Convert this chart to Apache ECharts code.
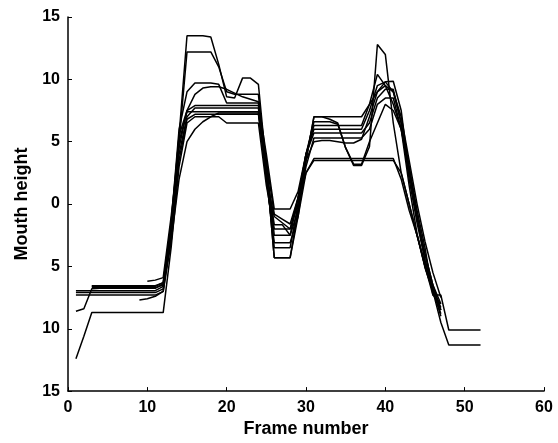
<!DOCTYPE html>
<html>
<head>
<meta charset="utf-8">
<script src="https://cdn.jsdelivr.net/npm/echarts@6/dist/echarts.min.js"></script>
<style>
html,body{margin:0;padding:0;background:#fff;}
#chart{width:558px;height:443px;}
</style>
</head>
<body>
<div id="chart"></div>
<script>
// Frame numbers (x values)
var frames = [1,2,3,4,5,6,7,8,9,10,11,12,13,14,15,16,17,18,19,20,21,22,23,24,25,26,27,28,29,30,31,32,33,34,35,36,37,38,39,40,41,42,43,44,45,46,47,48,49,50,51,52];

// Mouth height traces (one per utterance)
var seriesA = [-7.1,-7.1,-7.1,-7.1,-7.1,-7.1,-7.1,-7.1,-7.1,-7.1,-7.1,-6.8,-2.0,5.5,13.5,13.5,13.5,13.4,11.2,8.6,8.5,10.1,10.1,9.6,3.0,-4.3,-4.3,-4.3,-0.5,3.5,7.0,7.0,7.0,7.0,7.0,7.0,7.0,8.0,9.0,9.8,9.85,7.5,2.5,-1.0,-4.0,-6.5,-8.5,null,null,null,null,null];
var seriesB = [-7.3,-7.3,-7.3,-7.3,-7.3,-7.3,-7.3,-7.3,-7.3,-7.3,-7.3,-7.0,-2.5,5.0,12.2,12.2,12.2,12.2,11.0,9.0,8.8,8.8,8.8,8.8,2.5,-3.5,-3.5,-3.5,0.0,4.0,6.6,6.6,6.6,6.4,4.5,3.1,3.1,4.6,12.8,12.0,6.5,2.5,0.0,-2.5,-4.8,-7.0,-9.5,-11.3,-11.3,-11.3,-11.3,-11.3];
var seriesC = [null,null,-6.55,-6.55,-6.55,-6.55,-6.55,-6.55,-6.55,-6.55,-6.55,-6.3,-1.5,6.0,9.0,9.7,9.7,9.7,9.6,8.1,8.1,8.1,8.1,8.1,4.0,-0.4,-0.4,-0.4,1.0,4.0,6.3,6.3,6.3,6.3,6.3,6.3,6.3,8.0,10.4,9.5,8.0,6.0,3.0,-0.5,-3.5,-7.3,-7.3,-10.1,-10.1,-10.1,-10.1,-10.1];
var seriesD = [null,null,-6.7,-6.7,-6.7,-6.7,-6.7,-6.7,-6.7,-6.7,-6.7,-6.5,-3.0,4.0,7.0,7.7,7.7,7.7,7.7,7.7,7.7,7.7,7.7,7.7,2.0,-1.0,-1.5,-2.0,0.5,4.0,5.7,5.7,5.7,5.7,5.7,5.7,5.7,6.5,8.5,9.2,9.2,6.5,2.0,-1.5,-4.5,-6.8,-9.0,null,null,null,null,null];
var seriesE = [-8.6,-8.4,-6.8,-6.75,-6.75,-6.75,-6.75,-6.75,-6.75,-6.75,-6.75,-6.4,-2.0,3.5,6.8,7.2,7.2,7.2,7.2,7.2,7.2,7.2,7.2,7.2,2.5,-1.65,-1.65,-2.5,-0.5,3.0,5.3,5.3,5.3,5.3,5.3,5.3,5.3,6.0,8.0,8.5,8.5,6.0,1.5,-2.4,-5.1,-7.0,-8.8,null,null,null,null,null];
var seriesF = [-12.4,-10.6,-8.7,-8.7,-8.7,-8.7,-8.7,-8.7,-8.7,-8.7,-8.7,-8.7,-3.5,3.0,6.5,7.0,7.0,7.0,7.0,6.5,6.5,6.5,6.5,6.5,1.5,-2.0,-2.0,-2.0,0.0,2.5,3.65,3.65,3.65,3.65,3.65,3.65,3.65,3.65,3.65,3.65,3.65,2.0,-0.5,-2.5,-5.0,-7.3,-8.0,null,null,null,null,null];
var seriesG = [null,null,null,null,null,null,null,null,null,-6.2,-6.1,-5.9,-1.0,4.5,7.5,8.8,9.3,9.4,9.4,9.2,8.9,8.6,8.4,8.2,3.5,-2.5,-2.5,-2.5,0.5,3.5,5.0,5.1,5.1,5.0,4.9,4.9,5.2,7.0,9.0,9.5,9.0,6.5,3.0,-1.0,-4.0,-6.5,-8.0,null,null,null,null,null];
var seriesH = [null,null,null,null,null,null,null,null,-7.7,-7.6,-7.4,-7.0,-3.0,2.0,5.0,6.0,6.6,7.0,7.3,7.3,7.3,7.3,7.3,7.3,2.0,-3.1,-3.1,-3.1,-1.0,2.5,3.5,3.5,3.5,3.5,3.5,3.5,3.5,3.5,3.5,3.5,3.5,2.5,0.0,-2.5,-5.0,-7.0,-8.5,null,null,null,null,null];
var seriesI = [-6.95,-6.95,-6.95,-6.95,-6.95,-6.95,-6.95,-6.95,-6.95,-6.95,-6.95,-6.6,-2.0,5.0,7.4,7.4,7.4,7.4,7.4,7.4,7.4,7.4,7.4,7.4,3.0,-4.3,-4.3,-4.3,-1.0,3.5,7.0,7.0,6.8,6.5,4.5,3.2,3.2,5.0,6.5,8.0,7.5,6.0,2.5,-1.0,-4.5,-6.8,-8.3,null,null,null,null,null];
var seriesJ = [null,null,-6.6,-6.6,-6.6,-6.6,-6.6,-6.6,-6.6,-6.6,-6.6,-6.3,-1.5,5.5,7.5,7.9,7.9,7.9,7.9,7.9,7.9,7.9,7.9,7.9,3.5,-0.8,-1.2,-1.6,0.5,4.0,6.0,6.0,6.0,6.0,6.0,6.0,6.0,7.5,9.5,9.8,9.0,7.0,3.5,0.0,-3.0,-5.5,-7.5,null,null,null,null,null];

var allSeries = [seriesA,seriesB,seriesC,seriesD,seriesE,seriesF,seriesG,seriesH,seriesI,seriesJ];

// Axis ticks
var xTicks = [0,10,20,30,40,50,60];
var yTicks = [-15,-10,-5,0,5,10,15];

var chart = echarts.init(document.getElementById('chart'), null, {renderer:'canvas'});
var FONT = 'Liberation Sans';

var series = allSeries.map(function(vals){
  var data = [];
  for (var i = 0; i < frames.length; i++) {
    if (vals[i] !== null) data.push([frames[i], vals[i]]);
  }
  return {
    type:'line', data:data, showSymbol:false, symbol:'none',
    lineStyle:{color:'#000', width:1.5}, animation:false, connectNulls:false
  };
});

chart.setOption({
  backgroundColor:'#fff',
  animation:false,
  grid:{left:68, right:14, top:17, bottom:50},
  xAxis:{
    type:'value', min:xTicks[0], max:xTicks[xTicks.length-1], interval:10,
    name:'Frame number', nameLocation:'middle', nameGap:27,
    nameTextStyle:{fontFamily:FONT, fontSize:18, fontWeight:'bold', color:'#000'},
    axisLine:{show:true, onZero:false, lineStyle:{color:'#000', width:1.5}},
    axisTick:{show:true, inside:true, length:4, lineStyle:{color:'#000'}},
    axisLabel:{fontFamily:FONT, fontSize:16, fontWeight:'bold', color:'#000', margin:8},
    splitLine:{show:false}
  },
  yAxis:{
    type:'value', min:yTicks[0], max:yTicks[yTicks.length-1], interval:5,
    name:'Mouth height', nameLocation:'middle', nameGap:36,
    nameTextStyle:{fontFamily:FONT, fontSize:18, fontWeight:'bold', color:'#000'},
    axisLine:{show:true, onZero:false, lineStyle:{color:'#000', width:1.5}},
    axisTick:{show:true, inside:true, length:4, lineStyle:{color:'#000'}},
    axisLabel:{fontFamily:FONT, fontSize:16, fontWeight:'bold', color:'#000', margin:8,
      formatter:function(v){return String(Math.abs(v));}},
    splitLine:{show:false}
  },
  series:series
});
</script>
</body>
</html>
